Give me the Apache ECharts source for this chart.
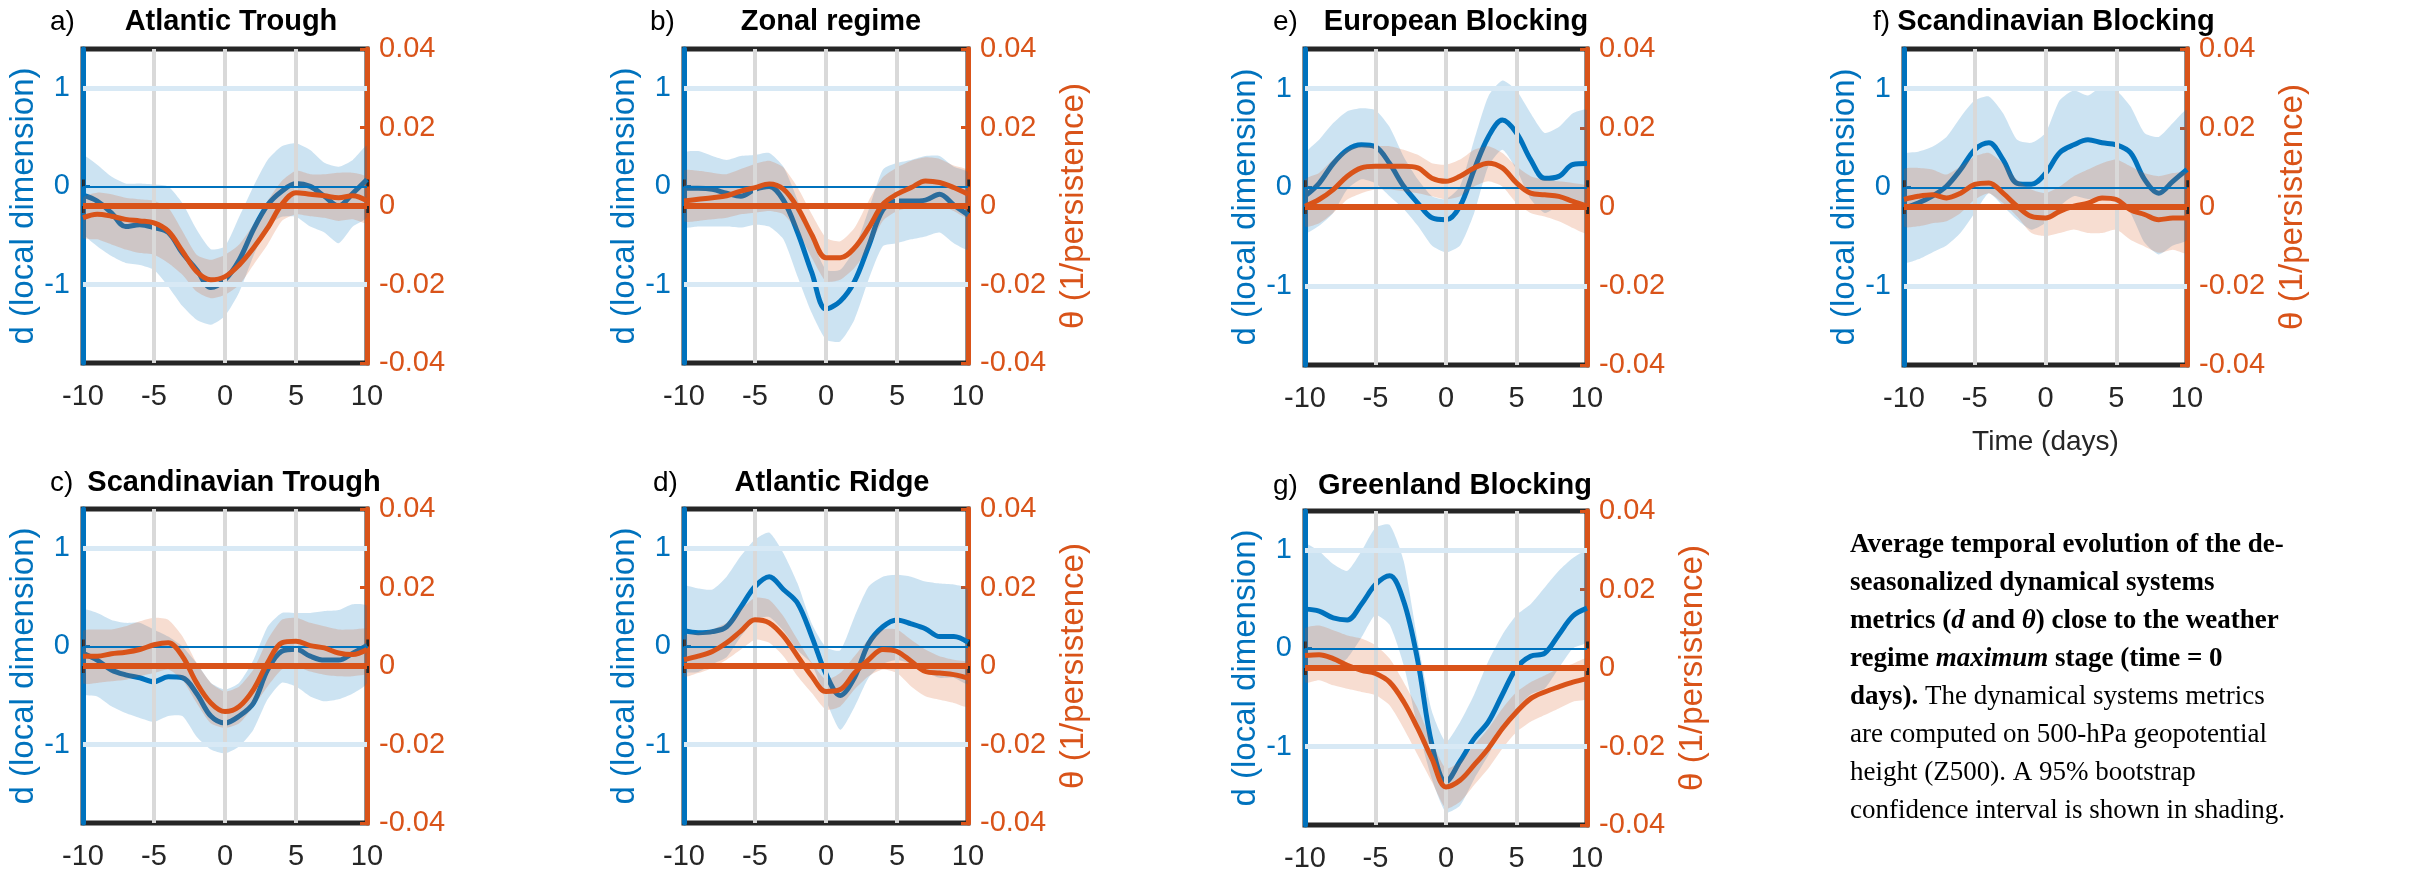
<!DOCTYPE html>
<html><head><meta charset="utf-8">
<script src="https://cdn.jsdelivr.net/npm/echarts@6/dist/echarts.min.js"></script>
<style>html,body{margin:0;padding:0;background:#fff}#c{width:2420px;height:873px}</style>
</head><body><div id="c"></div><script>
// ---------- data ----------
const days = [-10,-9,-8,-7,-6,-5,-4,-3,-2,-1,0,1,2,3,4,5,6,7,8,9,10];
const xTicks = [-10,-5,0,5,10];
const dTicks = [-1,0,1];
const tTicks = [-0.04,-0.02,0,0.02,0.04];

// a) Atlantic Trough
const aD   = [-0.09,-0.15,-0.27,-0.41,-0.39,-0.42,-0.47,-0.68,-0.85,-1.03,-0.95,-0.75,-0.44,-0.19,-0.05,0.03,0.0,-0.10,-0.20,-0.07,0.07];
const aDhi = [0.31,0.22,0.10,0.03,0.03,0.02,0.0,-0.17,-0.44,-0.64,-0.61,-0.31,0.0,0.27,0.41,0.44,0.37,0.24,0.20,0.27,0.41];
const aDlo = [-0.47,-0.61,-0.71,-0.78,-0.80,-0.85,-1.02,-1.22,-1.36,-1.41,-1.32,-1.08,-0.71,-0.41,-0.31,-0.31,-0.41,-0.47,-0.58,-0.41,-0.31];
const aT   = [-0.0030,-0.0021,-0.0026,-0.0034,-0.0038,-0.0043,-0.0064,-0.0115,-0.0167,-0.0188,-0.0180,-0.0150,-0.0107,-0.0056,0.0004,0.0034,0.0030,0.0026,0.0021,0.0026,0.0013];
const aThi = [0.0021,0.0034,0.0030,0.0021,0.0017,0.0013,-0.0004,-0.0064,-0.0124,-0.0137,-0.0124,-0.0098,-0.0047,0.0013,0.0064,0.0090,0.0081,0.0081,0.0085,0.0085,0.0073];
const aTlo = [-0.0081,-0.0085,-0.0098,-0.0111,-0.0120,-0.0124,-0.0145,-0.0175,-0.0218,-0.0235,-0.0226,-0.0201,-0.0150,-0.0098,-0.0038,-0.0021,-0.0026,-0.0030,-0.0038,-0.0034,-0.0043];

// b) Zonal regime
const bD   = [-0.02,-0.02,-0.03,-0.07,-0.10,-0.03,0.0,-0.14,-0.47,-0.88,-1.25,-1.17,-0.97,-0.61,-0.24,-0.15,-0.15,-0.14,-0.08,-0.19,-0.29];
const bDhi = [0.34,0.36,0.31,0.27,0.31,0.32,0.34,0.20,-0.14,-0.54,-0.85,-0.85,-0.64,-0.24,0.17,0.24,0.27,0.31,0.31,0.20,0.14];
const bDlo = [-0.41,-0.41,-0.41,-0.41,-0.42,-0.39,-0.41,-0.54,-0.92,-1.29,-1.56,-1.58,-1.36,-0.95,-0.61,-0.58,-0.54,-0.51,-0.47,-0.58,-0.64];
const bT   = [0.0013,0.0017,0.0021,0.0026,0.0038,0.0047,0.0056,0.0043,-0.0004,-0.0073,-0.0132,-0.0132,-0.0107,-0.0056,0.0004,0.0030,0.0047,0.0064,0.0060,0.0047,0.0030];
const bThi = [0.0090,0.0090,0.0085,0.0081,0.0094,0.0107,0.0115,0.0098,0.0047,-0.0021,-0.0081,-0.0090,-0.0056,0.0013,0.0073,0.0098,0.0115,0.0124,0.0120,0.0103,0.0090];
const bTlo = [-0.0038,-0.0038,-0.0034,-0.0030,-0.0021,-0.0017,-0.0013,-0.0021,-0.0064,-0.0132,-0.0192,-0.0188,-0.0158,-0.0107,-0.0038,-0.0013,-0.0004,0.0000,0.0004,-0.0013,-0.0030];

// e) European Blocking
const eD   = [-0.09,0.04,0.24,0.38,0.43,0.41,0.24,0.01,-0.16,-0.31,-0.33,-0.19,0.18,0.51,0.68,0.55,0.28,0.09,0.11,0.23,0.24];
const eDhi = [0.33,0.48,0.65,0.77,0.80,0.78,0.61,0.31,0.08,-0.09,-0.12,0.01,0.48,0.92,1.08,0.98,0.75,0.55,0.61,0.75,0.78];
const eDlo = [-0.46,-0.39,-0.26,-0.02,0.08,0.04,-0.09,-0.22,-0.39,-0.59,-0.66,-0.59,-0.26,0.21,0.38,0.18,-0.12,-0.26,-0.19,-0.16,-0.16];
const eT   = [0.0002,0.0019,0.0044,0.0078,0.0099,0.0103,0.0103,0.0103,0.0099,0.0073,0.0065,0.0078,0.0099,0.0111,0.0099,0.0061,0.0035,0.0031,0.0027,0.0014,0.0002];
const eThi = [0.0069,0.0086,0.0120,0.0145,0.0154,0.0154,0.0154,0.0145,0.0132,0.0111,0.0107,0.0120,0.0145,0.0154,0.0137,0.0103,0.0078,0.0069,0.0065,0.0061,0.0052];
const eTlo = [-0.0049,-0.0041,-0.0015,0.0019,0.0035,0.0044,0.0044,0.0040,0.0035,0.0027,0.0019,0.0027,0.0052,0.0065,0.0052,0.0010,-0.0015,-0.0024,-0.0036,-0.0053,-0.0066];

// f) Scandinavian Blocking
const fD   = [-0.21,-0.16,-0.09,0.01,0.18,0.38,0.45,0.28,0.04,0.03,0.14,0.35,0.43,0.48,0.45,0.43,0.35,0.08,-0.06,0.06,0.18];
const fDhi = [0.33,0.36,0.41,0.51,0.71,0.88,0.92,0.75,0.48,0.45,0.55,0.88,0.98,0.93,1.02,0.98,0.82,0.55,0.51,0.65,0.78];
const fDlo = [-0.76,-0.73,-0.66,-0.59,-0.46,-0.26,-0.06,-0.19,-0.33,-0.43,-0.36,-0.19,-0.09,-0.12,-0.11,-0.12,-0.26,-0.56,-0.68,-0.59,-0.53];
const fT   = [0.0019,0.0027,0.0031,0.0023,0.0035,0.0057,0.0061,0.0035,0.0002,-0.0024,-0.0028,-0.0011,0.0002,0.0010,0.0023,0.0019,-0.0007,-0.0019,-0.0032,-0.0028,-0.0028];
const fThi = [0.0095,0.0099,0.0095,0.0082,0.0103,0.0128,0.0137,0.0111,0.0069,0.0044,0.0035,0.0052,0.0078,0.0095,0.0111,0.0120,0.0103,0.0086,0.0078,0.0086,0.0086];
const fTlo = [-0.0049,-0.0049,-0.0041,-0.0036,-0.0015,0.0019,0.0035,0.0010,-0.0024,-0.0066,-0.0074,-0.0066,-0.0057,-0.0066,-0.0066,-0.0057,-0.0083,-0.0100,-0.0116,-0.0108,-0.0116];

// c) Scandinavian Trough
const cD   = [-0.07,-0.14,-0.24,-0.29,-0.32,-0.36,-0.31,-0.32,-0.48,-0.71,-0.78,-0.71,-0.58,-0.24,-0.05,-0.03,-0.10,-0.14,-0.14,-0.07,0.01];
const cDhi = [0.37,0.34,0.27,0.24,0.24,0.17,0.10,0.00,-0.17,-0.37,-0.44,-0.37,-0.14,0.20,0.34,0.34,0.34,0.36,0.37,0.43,0.41];
const cDlo = [-0.48,-0.51,-0.61,-0.68,-0.73,-0.77,-0.71,-0.71,-0.92,-1.05,-1.09,-1.02,-0.85,-0.54,-0.37,-0.41,-0.51,-0.56,-0.54,-0.48,-0.37];
const cT   = [0.0025,0.0025,0.0031,0.0035,0.0042,0.0054,0.0059,0.0025,-0.0043,-0.0094,-0.0116,-0.0103,-0.0060,0.0008,0.0059,0.0063,0.0052,0.0046,0.0033,0.0029,0.0042];
const cThi = [0.0089,0.0093,0.0093,0.0101,0.0114,0.0123,0.0118,0.0076,0.0008,-0.0043,-0.0065,-0.0052,-0.0009,0.0067,0.0118,0.0123,0.0110,0.0101,0.0093,0.0093,0.0093];
const cTlo = [-0.0043,-0.0043,-0.0039,-0.0035,-0.0026,-0.0018,-0.0009,-0.0035,-0.0094,-0.0146,-0.0158,-0.0146,-0.0103,-0.0052,-0.0009,-0.0001,-0.0014,-0.0022,-0.0026,-0.0026,-0.0018];

// d) Atlantic Ridge
const dD   = [0.16,0.14,0.15,0.20,0.40,0.61,0.71,0.58,0.44,0.10,-0.28,-0.50,-0.32,0.03,0.20,0.27,0.23,0.18,0.10,0.10,0.04];
const dDhi = [0.61,0.59,0.58,0.71,0.92,1.09,1.16,0.95,0.64,0.23,-0.01,-0.04,0.30,0.61,0.71,0.73,0.71,0.66,0.64,0.63,0.58];
const dDlo = [-0.25,-0.26,-0.18,-0.11,0.10,0.27,0.30,0.16,-0.04,-0.18,-0.55,-0.85,-0.62,-0.32,-0.18,-0.14,-0.18,-0.26,-0.32,-0.32,-0.38];
const dT   = [0.0016,0.0025,0.0037,0.0059,0.0089,0.0118,0.0110,0.0076,0.0025,-0.0026,-0.0065,-0.0060,-0.0018,0.0016,0.0042,0.0037,0.0012,-0.0014,-0.0018,-0.0022,-0.0031];
const dThi = [0.0076,0.0084,0.0093,0.0110,0.0144,0.0174,0.0169,0.0127,0.0067,0.0008,-0.0035,-0.0018,0.0025,0.0067,0.0093,0.0093,0.0067,0.0042,0.0025,0.0016,0.0008];
const dTlo = [-0.0026,-0.0018,-0.0005,0.0016,0.0042,0.0067,0.0059,0.0025,-0.0026,-0.0069,-0.0111,-0.0103,-0.0060,-0.0026,-0.0009,-0.0018,-0.0052,-0.0077,-0.0086,-0.0094,-0.0103];

// g) Greenland Blocking
const gD   = [0.40,0.38,0.31,0.29,0.45,0.65,0.74,0.48,-0.13,-0.98,-1.36,-1.15,-0.92,-0.75,-0.47,-0.20,-0.08,-0.05,0.14,0.33,0.41];
const gDhi = [1.06,0.99,0.86,0.79,0.99,1.23,1.26,0.89,0.07,-0.64,-0.95,-0.75,-0.47,-0.13,0.14,0.34,0.45,0.62,0.79,0.92,0.99];
const gDlo = [-0.20,-0.20,-0.20,-0.10,0.11,0.34,0.24,-0.17,-0.81,-1.33,-1.67,-1.60,-1.33,-1.09,-0.81,-0.61,-0.47,-0.41,-0.20,0.00,0.07];
const gT   = [0.0032,0.0034,0.0024,0.0007,-0.0006,-0.0014,-0.0036,-0.0086,-0.0154,-0.0231,-0.0303,-0.0286,-0.0247,-0.0205,-0.0154,-0.0112,-0.0078,-0.0061,-0.0048,-0.0036,-0.0027];
const gThi = [0.0100,0.0108,0.0096,0.0083,0.0075,0.0058,0.0024,-0.0036,-0.0103,-0.0188,-0.0256,-0.0239,-0.0197,-0.0154,-0.0103,-0.0061,-0.0036,-0.0019,-0.0002,0.0011,0.0024];
const gTlo = [-0.0036,-0.0031,-0.0044,-0.0053,-0.0061,-0.0069,-0.0095,-0.0154,-0.0222,-0.0290,-0.0358,-0.0341,-0.0298,-0.0256,-0.0205,-0.0163,-0.0137,-0.0120,-0.0103,-0.0086,-0.0078];

const captionLines = [
  '{b|Average temporal evolution of the de-}',
  '{b|seasonalized dynamical systems}',
  '{b|metrics (}{bi|d}{b| and }{bi|θ}{b|) close to the weather}',
  '{b|regime }{bi|maximum}{b| stage (time = 0}',
  '{b|days).}{n| The dynamical systems metrics}',
  '{n|are computed on 500-hPa geopotential}',
  '{n|height (Z500). A 95% bootstrap}',
  '{n|confidence interval is shown in shading.}'
];

const panels = [
  {key:'a', label:'a)', title:'Atlantic Trough',       d:aD, dHi:aDhi, dLo:aDlo, t:aT, tHi:aThi, tLo:aTlo, rightName:false, xName:''},
  {key:'b', label:'b)', title:'Zonal regime',          d:bD, dHi:bDhi, dLo:bDlo, t:bT, tHi:bThi, tLo:bTlo, rightName:true,  xName:''},
  {key:'e', label:'e)', title:'European Blocking',     d:eD, dHi:eDhi, dLo:eDlo, t:eT, tHi:eThi, tLo:eTlo, rightName:false, xName:''},
  {key:'f', label:'f)', title:'Scandinavian Blocking', d:fD, dHi:fDhi, dLo:fDlo, t:fT, tHi:fThi, tLo:fTlo, rightName:true,  xName:'Time (days)'},
  {key:'c', label:'c)', title:'Scandinavian Trough',   d:cD, dHi:cDhi, dLo:cDlo, t:cT, tHi:cThi, tLo:cTlo, rightName:false, xName:''},
  {key:'d', label:'d)', title:'Atlantic Ridge',        d:dD, dHi:dDhi, dLo:dDlo, t:dT, tHi:dThi, tLo:dTlo, rightName:true,  xName:''},
  {key:'g', label:'g)', title:'Greenland Blocking',    d:gD, dHi:gDhi, dLo:gDlo, t:gT, tHi:gThi, tLo:gTlo, rightName:true,  xName:''}
];

// ---------- layout / style ----------
const layout = {
  a:{left:83,  top:49,  width:284, height:314, labelX:50,   titleX:231,  titleY:22},
  b:{left:684, top:49,  width:284, height:314, labelX:650,  titleX:831,  titleY:22},
  e:{left:1305,top:49,  width:282, height:316, labelX:1273, titleX:1456, titleY:22},
  f:{left:1904,top:49,  width:283, height:316, labelX:1873, titleX:2056, titleY:22},
  c:{left:83,  top:509, width:284, height:314, labelX:50,   titleX:234,  titleY:483},
  d:{left:684, top:509, width:284, height:314, labelX:653,  titleX:832,  titleY:483},
  g:{left:1305,top:511, width:282, height:316, labelX:1273, titleX:1455, titleY:486}
};
const BLUE = '#0072BD', ORANGE = '#D95319', TXT = '#262626';
const SANS = '"Liberation Sans", Arial, Helvetica, sans-serif';
const SERIF = '"Liberation Serif", "Times New Roman", serif';

function bandRenderer(lo, hi, fill) {
  return function (params, api) {
    const pts = [];
    for (let k = 0; k < days.length; k++) pts.push(api.coord([days[k], hi[k]]));
    for (let k = days.length - 1; k >= 0; k--) pts.push(api.coord([days[k], lo[k]]));
    return {type:'polygon', shape:{points:pts, smooth:0.2}, style:{fill:fill, stroke:null}};
  };
}
const pairs = arr => days.map((x, k) => [x, arr[k]]);

const option = {animation:false, backgroundColor:'#fff', grid:[], xAxis:[], yAxis:[], series:[], graphic:[]};

panels.forEach((p, i) => {
  const L = layout[p.key];
  option.grid.push({left:L.left, top:L.top, width:L.width, height:L.height, show:true,
    borderColor:TXT, borderWidth:5, backgroundColor:'transparent'});
  const tickStyle = {inside:true, length:7, lineStyle:{color:TXT, width:3}};
  option.xAxis.push({gridIndex:i, type:'value', position:'bottom', min:xTicks[0], max:xTicks[xTicks.length-1], interval:5,
    axisLine:{show:false}, axisTick:tickStyle, splitLine:{show:false},
    axisLabel:{color:TXT, fontSize:29, fontFamily:SANS, margin:19},
    name:p.xName, nameLocation:'middle', nameGap:63, nameTextStyle:{color:TXT, fontSize:28, fontFamily:SANS}});
  option.xAxis.push({gridIndex:i, type:'value', position:'top', min:xTicks[0], max:xTicks[xTicks.length-1], interval:5,
    axisLine:{show:false}, axisTick:tickStyle, axisLabel:{show:false}, splitLine:{show:false}});
  option.yAxis.push({gridIndex:i, type:'value', position:'left', min:-1.8, max:1.4, splitNumber:3,
    axisLine:{show:true, onZero:false, lineStyle:{color:BLUE, width:5}},
    axisTick:{show:true, inside:true, length:7, lineStyle:{color:BLUE, width:3}, customValues:dTicks},
    axisLabel:{color:BLUE, fontSize:29, fontFamily:SANS, margin:13, customValues:dTicks},
    splitLine:{show:false},
    name:'d (local dimension)', nameLocation:'middle', nameRotate:90, nameGap:38,
    nameTextStyle:{color:BLUE, fontSize:33, fontFamily:SANS}});
  option.yAxis.push({gridIndex:i, type:'value', position:'right', min:tTicks[0], max:tTicks[tTicks.length-1], interval:0.02,
    axisLine:{show:true, onZero:false, lineStyle:{color:ORANGE, width:5}},
    axisTick:{show:true, inside:true, length:7, lineStyle:{color:ORANGE, width:3}},
    axisLabel:{color:ORANGE, fontSize:29, fontFamily:SANS, margin:12},
    splitLine:{show:false},
    name:p.rightName ? 'θ (1/persistence)' : '', nameLocation:'middle', nameRotate:90, nameGap:89,
    nameTextStyle:{color:ORANGE, fontSize:33, fontFamily:SANS}});

  const xi = 2*i, yl = 2*i, yr = 2*i + 1;
  const guides = [];
  xTicks.slice(1, -1).forEach(v => guides.push({xAxis:v, lineStyle:{color:'#d9d9d9', width:4, type:'solid'}}));
  dTicks.filter(v => v !== 0).forEach(v => guides.push({yAxis:v, lineStyle:{color:'#d8e9f5', width:5, type:'solid'}}));
  option.series.push({type:'line', xAxisIndex:xi, yAxisIndex:yl, z:1, silent:true, showSymbol:false,
    data:[[0, 0]], lineStyle:{width:0},
    markLine:{silent:true, symbol:'none', label:{show:false}, animation:false, data:guides}});
  option.series.push({type:'custom', xAxisIndex:xi, yAxisIndex:yl, z:2, silent:true, clip:true,
    data:[[0, 0]], renderItem:bandRenderer(p.dLo, p.dHi, 'rgba(0,114,189,0.2)')});
  option.series.push({type:'line', xAxisIndex:xi, yAxisIndex:yl, z:3, silent:true, showSymbol:false, smooth:0.35,
    data:pairs(p.d), lineStyle:{color:BLUE, width:5},
    markLine:{silent:true, symbol:'none', label:{show:false}, animation:false,
      data:[{yAxis:0, lineStyle:{color:BLUE, width:2, type:'solid'}}]}});
  option.series.push({type:'custom', xAxisIndex:xi, yAxisIndex:yr, z:4, silent:true, clip:true,
    data:[[0, 0]], renderItem:bandRenderer(p.tLo, p.tHi, 'rgba(217,83,25,0.2)')});
  option.series.push({type:'line', xAxisIndex:xi, yAxisIndex:yr, z:5, silent:true, showSymbol:false, smooth:0.35,
    data:pairs(p.t), lineStyle:{color:ORANGE, width:5},
    markLine:{silent:true, symbol:'none', label:{show:false}, animation:false,
      data:[{yAxis:0, lineStyle:{color:ORANGE, width:6, type:'solid'}}]}});

  option.graphic.push({type:'text', x:L.labelX, y:L.titleY, silent:true,
    style:{text:p.label, fontSize:28, fontFamily:SANS, fill:'#000', textAlign:'left', textVerticalAlign:'middle', align:'left', verticalAlign:'middle'}});
  option.graphic.push({type:'text', x:L.titleX, y:L.titleY, silent:true,
    style:{text:p.title, fontSize:29, fontWeight:'bold', fontFamily:SANS, fill:'#000', textAlign:'center', textVerticalAlign:'middle', align:'center', verticalAlign:'middle'}});
});

const capStyle = {fontSize:27, fontFamily:SERIF, lineHeight:38, fill:'#000', color:'#000'};
option.graphic.push({type:'text', x:1850, y:526, silent:true,
  style:{text:captionLines.join('\n'), fontSize:27, fontFamily:SERIF, lineHeight:38, fill:'#000',
    textAlign:'left', textVerticalAlign:'top', align:'left', verticalAlign:'top',
    rich:{
      b:Object.assign({fontWeight:'bold'}, capStyle),
      bi:Object.assign({fontWeight:'bold', fontStyle:'italic'}, capStyle),
      n:Object.assign({fontWeight:'normal'}, capStyle)
    }}});

const chart = echarts.init(document.getElementById('c'), null, {renderer:'canvas'});
chart.setOption(option);
</script></body></html>
